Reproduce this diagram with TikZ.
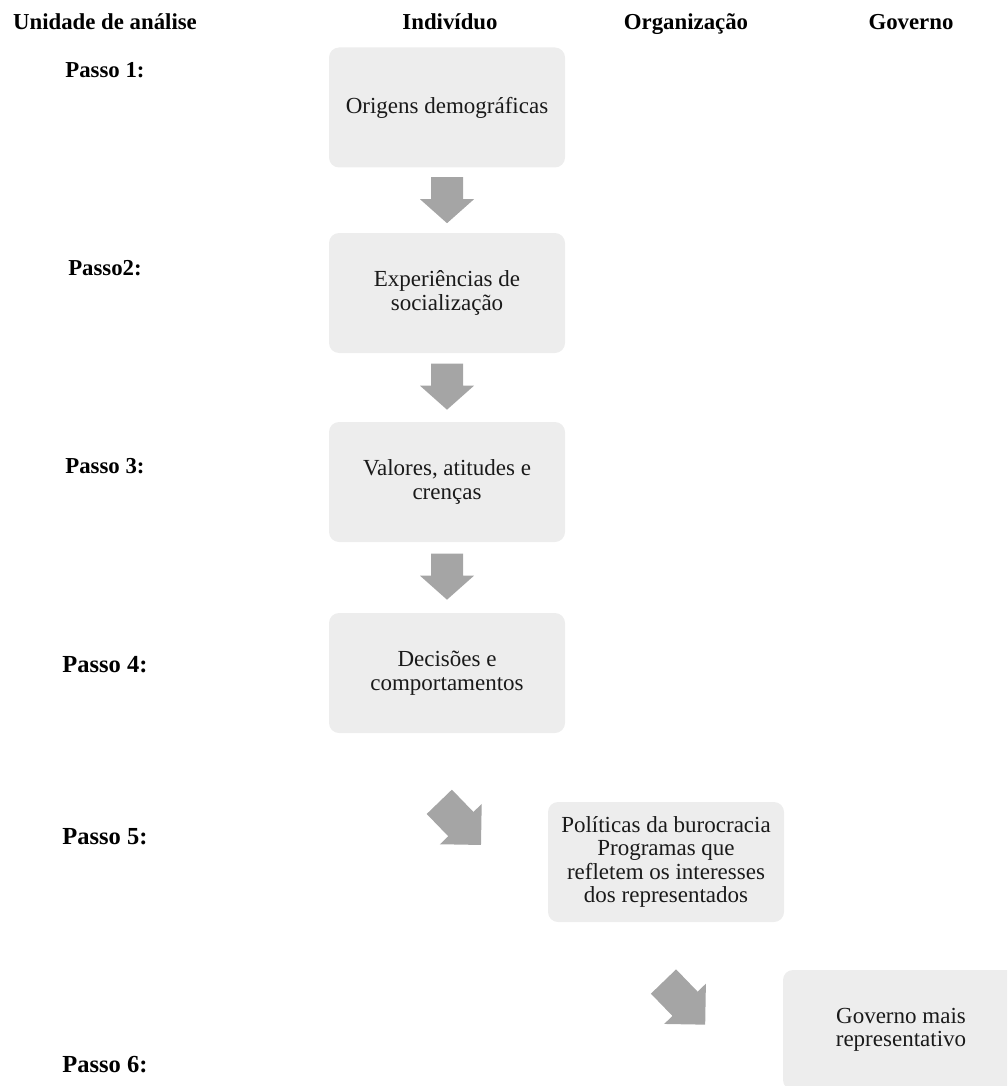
\documentclass[tikz,border=0pt]{standalone}
\usepackage{fontspec}
\setmainfont{Liberation Serif}
\usetikzlibrary{calc}
\definecolor{boxfill}{HTML}{EDEDED}
\definecolor{arrowfill}{HTML}{A5A5A5}
\definecolor{txt}{HTML}{1A1A1A}
\begin{document}
\begin{tikzpicture}[x=1pt,y=-1pt,
  stepbox/.style={fill=boxfill, rounded corners=10pt, minimum width=236pt, minimum height=120pt,
    align=center, inner sep=0pt, text=txt, font=\fontsize{23}{23.6}\selectfont},
  head/.style={font=\fontsize{22.8}{26}\selectfont\bfseries, anchor=base},
  passo/.style={font=\fontsize{22.8}{26}\selectfont\bfseries, anchor=base},
  passob/.style={font=\fontsize{24.5}{28}\selectfont\bfseries, anchor=base},
  pics/varrow/.style={code={\fill[arrowfill] (0,-16) -- (22,-16) -- (22,-27) -- (46,0) -- (22,27) -- (22,16) -- (0,16) -- cycle;}},
  pics/darrow/.style={code={\fill[arrowfill] (0,-17.5) -- (31,-17.5) -- (31,-29) -- (60,0) -- (31,29) -- (31,17.5) -- (0,17.5) -- cycle;}}]
\useasboundingbox (0,0) rectangle (1007,1086);
\clip (0,0) rectangle (1007,1086);

% headers
\node[head] (h0) at (105,30) {Unidade de análise};
\node[head] (h1) at (450,30) {Indivíduo};
\node[head] (h2) at (686,30) {Organização};
\node[head] (h3) at (911,30) {Governo};

% step labels
\node[passo]  (p1) at (105,78)   {Passo 1:};
\node[passo]  (p2) at (105,275)  {Passo2:};
\node[passo]  (p3) at (105,473)  {Passo 3:};
\node[passob] (p4) at (105,672)  {Passo 4:};
\node[passob] (p5) at (105,844)  {Passo 5:};
\node[passob] (p6) at (105,1072) {Passo 6:};

% boxes
\node[stepbox] (b1) at (447,107.5) {Origens demográficas};
\node[stepbox] (b2) at (447,293)   {Experiências de\\socialização};
\node[stepbox] (b3) at (447,482)   {Valores, atitudes e\\crenças};
\node[stepbox] (b4) at (447,673)   {Decisões e\\comportamentos};
\node[stepbox] (b5) at (666,862)   {Políticas da burocracia\\Programas que\\refletem os interesses\\dos representados};
\node[stepbox] (b6) at (901,1030)  {Governo mais\\representativo};

% arrows
\coordinate (a1) at ($(b1.south)+(0,9.5)$);
\coordinate (a2) at ($(b2.south)+(0,10.5)$);
\coordinate (a3) at ($(b3.south)+(0,11.5)$);
\coordinate (d1) at (439.3,801.8);
\coordinate (d2) at (663.5,981.5);
\pic[rotate=-90] at (a1) {varrow};
\pic[rotate=-90] at (a2) {varrow};
\pic[rotate=-90] at (a3) {varrow};
\pic[rotate=-46] at (d1) {darrow};
\pic[rotate=-46] at (d2) {darrow};
\end{tikzpicture}
\end{document}
